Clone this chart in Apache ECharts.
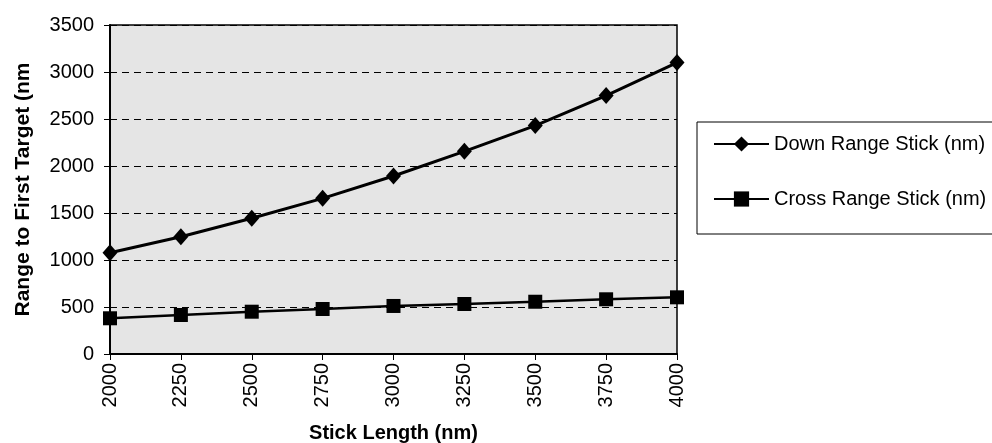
<!DOCTYPE html>
<html>
<head>
<meta charset="utf-8">
<script src="https://cdn.jsdelivr.net/npm/echarts@6/dist/echarts.min.js"></script>
<style>
  html, body { margin: 0; padding: 0; background: #fff; }
  #chart { width: 992px; height: 443px; }
</style>
</head>
<body>
<div id="chart"></div>
<script>
const stickLength = [2000, 2250, 2500, 2750, 3000, 3250, 3500, 3750, 4000];
const downRange = [1078, 1248, 1444, 1656, 1894, 2156, 2430, 2749, 3100];
const crossRange = [380, 415, 450, 479, 511, 532, 556, 582, 603];

const font = 'Liberation Sans, Arial, sans-serif';

function pairs(xs, ys) {
    return xs.map(function (x, i) { return [x, ys[i]]; });
}

// plain numbers, no thousands separator
function plain(v) { return String(v); }

const chart = echarts.init(document.getElementById('chart'), null, { renderer: 'canvas' });

const option = {
    backgroundColor: '#ffffff',
    animation: false,
    textStyle: { fontFamily: font, color: '#000' },
    grid: {
        left: 110, right: 315, top: 25, bottom: 89,
        containLabel: false,
        outerBoundsMode: 'none',
        show: true,
        backgroundColor: '#e5e5e5',
        borderColor: '#000',
        borderWidth: 1.5
    },
    legend: {
        orient: 'vertical',
        left: 697,
        top: 122,
        padding: [12, 40, 25, 16],
        itemGap: 35,
        itemWidth: 55,
        itemHeight: 19,
        borderColor: '#000',
        borderWidth: 1,
        textStyle: { fontFamily: font, fontSize: 20, color: '#000' },
        data: ['Down Range Stick (nm)', 'Cross Range Stick (nm)']
    },
    xAxis: {
        type: 'value',
        min: 2000,
        max: 4000,
        interval: 250,
        name: 'Stick Length (nm)',
        nameLocation: 'middle',
        nameGap: 69,
        nameTextStyle: { fontFamily: font, fontSize: 20, fontWeight: 'bold', color: '#000' },
        axisLine: { lineStyle: { color: '#000', width: 2 } },
        axisTick: { show: true, length: 6, lineStyle: { color: '#000' } },
        axisLabel: { rotate: 90, fontSize: 20, color: '#000', margin: 9, fontFamily: font, formatter: plain },
        splitLine: { show: false }
    },
    yAxis: {
        type: 'value',
        min: 0,
        max: 3500,
        interval: 500,
        name: 'Range to First Target (nm',
        nameLocation: 'middle',
        nameGap: 76,
        nameTextStyle: { fontFamily: font, fontSize: 21, fontWeight: 'bold', color: '#000' },
        axisLine: { show: true, lineStyle: { color: '#000', width: 2 } },
        axisTick: { show: true, length: 6, lineStyle: { color: '#000' } },
        axisLabel: { fontSize: 20, color: '#000', margin: 16, fontFamily: font, formatter: plain },
        splitLine: {
            show: true,
            lineStyle: { color: '#000', type: [7, 5], width: 1 }
        }
    },
    series: [
        {
            name: 'Down Range Stick (nm)',
            type: 'line',
            data: pairs(stickLength, downRange),
            symbol: 'diamond',
            symbolSize: [15, 17],
            lineStyle: { color: '#000', width: 3 },
            itemStyle: { color: '#000' }
        },
        {
            name: 'Cross Range Stick (nm)',
            type: 'line',
            data: pairs(stickLength, crossRange),
            symbol: 'rect',
            symbolSize: 14,
            lineStyle: { color: '#000', width: 2.5 },
            itemStyle: { color: '#000' }
        }
    ]
};

chart.setOption(option);
</script>
</body>
</html>
